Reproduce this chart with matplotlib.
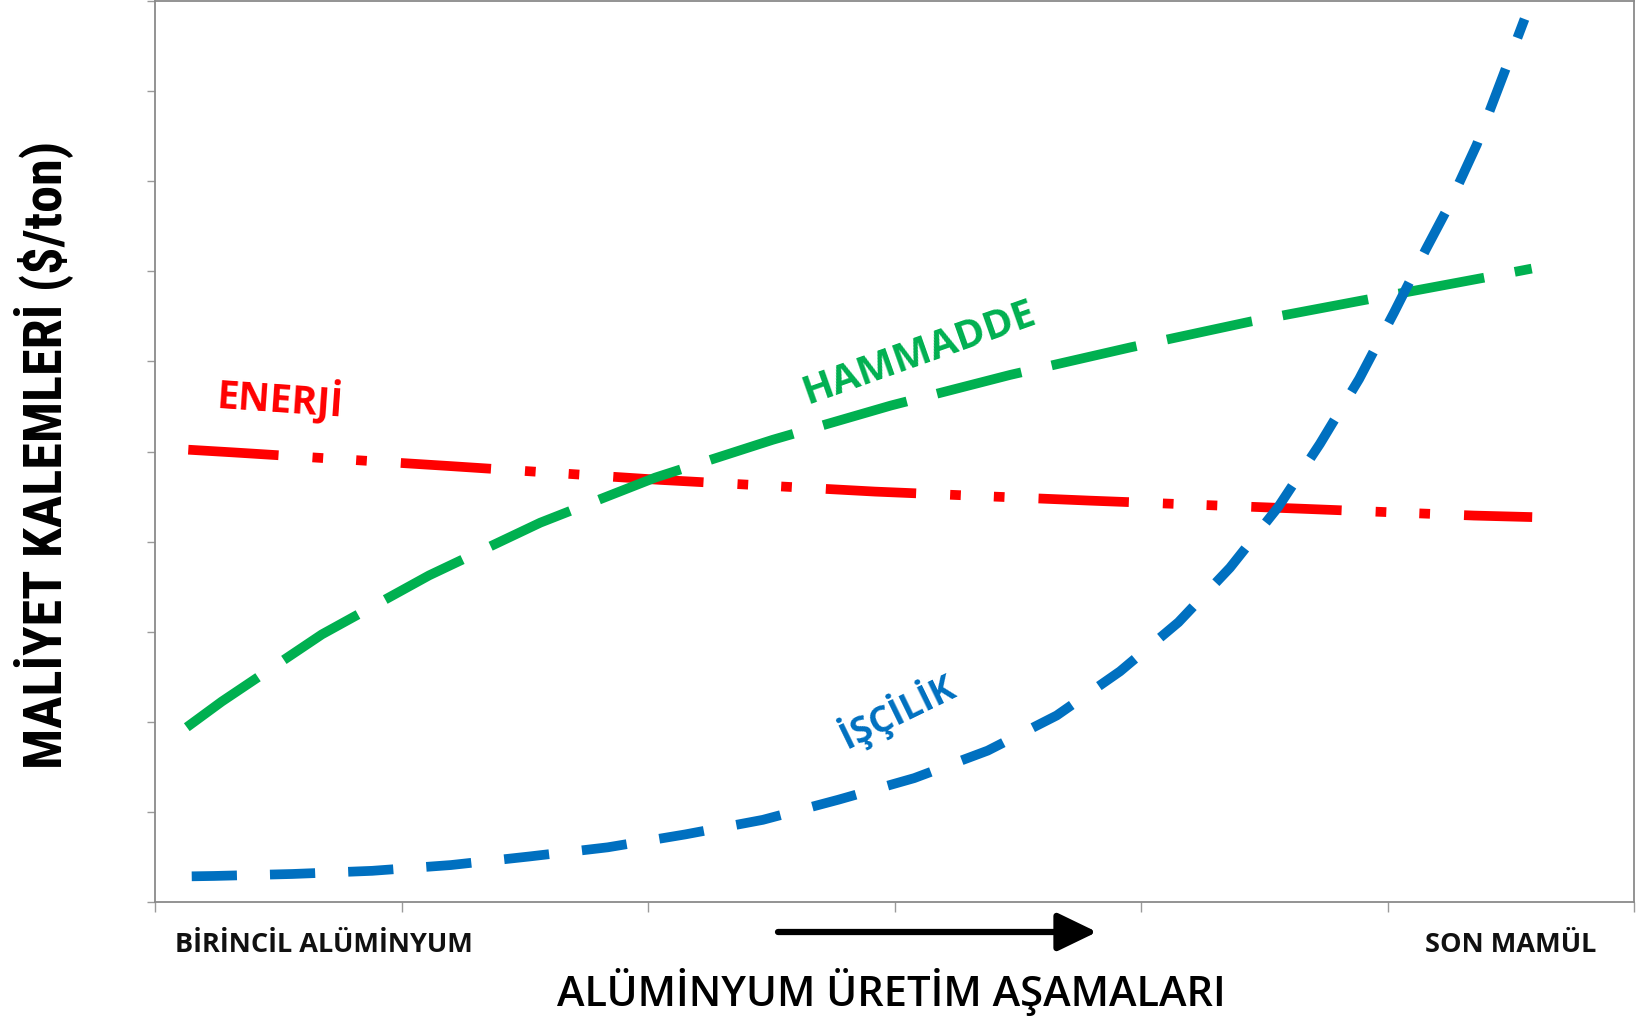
import matplotlib
matplotlib.use("Agg")
import matplotlib.pyplot as plt
from matplotlib import font_manager as fm
from matplotlib.patches import FancyArrowPatch

# ---- data ----
enerji_x = [0.135, 0.318, 1.187, 2.050, 2.921, 3.790, 4.660, 5.350, 5.587]
enerji_y = [5.02, 4.99, 4.84, 4.685, 4.555, 4.455, 4.364, 4.289, 4.272]

hammadde_x = [0.129, 0.271, 0.677, 1.112, 1.563, 2.029, 2.506, 2.985, 3.469, 3.956,
              4.449, 4.943, 5.423, 5.585]
hammadde_y = [1.94, 2.225, 2.97, 3.625, 4.21, 4.71, 5.13, 5.51, 5.85, 6.155,
              6.445, 6.70, 6.945, 7.03]

iscilik_x = [0.149, 0.240, 0.558, 0.881, 1.200, 1.518, 1.837, 2.151, 2.466, 2.772,
             3.080, 3.378, 3.658, 3.915, 4.152, 4.361, 4.557, 4.726, 4.885, 5.027,
             5.155, 5.240, 5.362, 5.470, 5.556]
iscilik_y = [0.285, 0.289, 0.311, 0.346, 0.410, 0.505, 0.607, 0.750, 0.912, 1.135,
             1.375, 1.680, 2.070, 2.560, 3.105, 3.710, 4.385, 5.085, 5.805, 6.545,
             7.240, 7.680, 8.405, 9.180, 9.800]

series_labels = ["ENERJİ", "HAMMADDE", "İŞÇİLİK"]
x_tick_labels = ["BİRİNCİL ALÜMİNYUM", "SON MAMÜL"]
x_title = "ALÜMİNYUM ÜRETİM AŞAMALARI"
y_title = "MALİYET KALEMLERİ ($/ton)"

RED = "#FF0000"
GREEN = "#00B050"
BLUE = "#0070C0"

names = {f.name for f in fm.fontManager.ttflist}
narrow = None
for cand in ["Liberation Sans Narrow", "Roboto Condensed", "Open Sans Condensed"]:
    if cand in names:
        narrow = cand
        break

fig = plt.figure(figsize=(16.42, 10.20), dpi=100)
ax = fig.add_axes([155/1642, 1-903/1020, (1634-155)/1642, (903-2)/1020])

ax.plot(enerji_x, enerji_y, color=RED, lw=7, dash_capstyle='butt',
        linestyle=(0, (9.3, 3.5, 1.1, 3.4, 1.1, 3.5)))
ax.plot(hammadde_x, hammadde_y, color=GREEN, lw=7, dash_capstyle='butt',
        linestyle=(0, (8.95, 3.2)))
ax.plot(iscilik_x, iscilik_y, color=BLUE, lw=7, dash_capstyle='butt',
        linestyle=(0, (4.65, 3.4)))

ax.set_xlim(0, 6)
ax.set_ylim(0, 10)
ax.set_xticks(range(0, 7))
ax.set_yticks(range(0, 11))
ax.set_xticklabels([])
ax.set_yticklabels([])
ax.tick_params(axis='x', direction='out', length=7, color='#9a9a9a', width=1)
ax.tick_params(axis='y', direction='out', length=6, color='#9a9a9a', width=1)
for s in ax.spines.values():
    s.set_color('#8a8a8a')
    s.set_linewidth(1.3)

# curve labels
ax.text(0.507, 5.61, series_labels[0], color=RED, fontsize=28, fontweight='bold',
        family='Open Sans', rotation=-4, ha='center', va='center', rotation_mode='anchor')
ax.text(3.10, 6.10, series_labels[1], color=GREEN, fontsize=29, fontweight='bold',
        family='Open Sans', rotation=19.5, ha='center', va='center', rotation_mode='anchor')
ax.text(3.012, 2.13, series_labels[2], color=BLUE, fontsize=26, fontweight='bold',
        family='Open Sans', rotation=26, ha='center', va='center', rotation_mode='anchor')

# x tick labels
fig.text(324/1642, 1-945/1020, x_tick_labels[0], fontsize=19.5, fontweight='bold',
         family='Open Sans', ha='center', va='center', color='#111111')
fig.text(1511/1642, 1-945/1020, x_tick_labels[1], fontsize=19.5, fontweight='bold',
         family='Open Sans', ha='center', va='center', color='#111111')

# x title
fig.text(891/1642, 1-992/1020, x_title, fontsize=30, family='Open Sans',
         fontweight='semibold', ha='center', va='center')

# arrow
fig.add_artist(FancyArrowPatch(
    (778/1642, 1-933/1020), (1097/1642, 1-933/1020), transform=fig.transFigure,
    arrowstyle='-|>,head_length=1.2,head_width=0.58', mutation_scale=20,
    lw=4.5, color='black', shrinkA=0, shrinkB=0))

# y title
if narrow:
    fig.text(43/1642, 1-455/1020, y_title, fontsize=39, fontweight='bold', family=narrow,
             rotation=90, ha='center', va='center')
else:
    fig.text(43/1642, 1-455/1020, y_title, fontsize=32, fontweight='bold',
             family='Liberation Sans', rotation=90, ha='center', va='center')

fig.savefig("out.png", dpi=100)
